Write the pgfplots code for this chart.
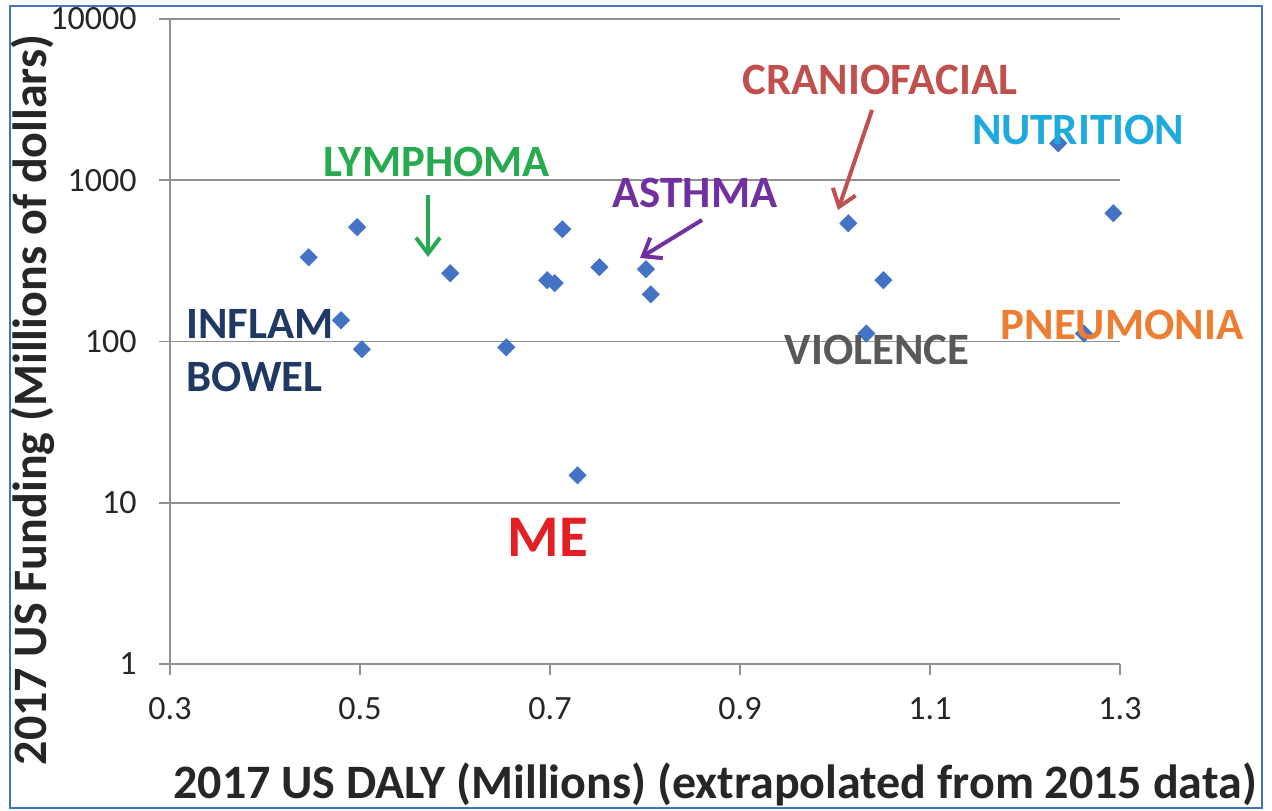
\documentclass[border=0pt]{standalone}
\usepackage{fontspec}
\setmainfont{Carlito}
\usepackage{pgfplots}
\pgfplotsset{compat=1.18}
\usetikzlibrary{arrows.meta}
\definecolor{markblue}{RGB}{68,114,196}
\definecolor{gridgray}{RGB}{145,145,145}
\definecolor{inflam}{RGB}{31,56,100}
\definecolor{lymph}{RGB}{40,170,80}
\definecolor{asthma}{RGB}{112,48,160}
\definecolor{cranio}{RGB}{192,80,77}
\definecolor{nutri}{RGB}{30,170,220}
\definecolor{pneu}{RGB}{237,125,49}
\definecolor{viol}{RGB}{89,89,89}
\definecolor{mered}{RGB}{227,30,36}
\definecolor{frameblue}{RGB}{68,114,196}
\newcommand\annfont{\fontsize{22.4}{26.5}\selectfont\bfseries}
\begin{document}
\begin{tikzpicture}
\begin{axis}[
  at={(85pt,73pt)}, anchor=south west,
  scale only axis, width=475pt, height=322.5pt,
  xmin=0.3, xmax=1.3, ymode=log, ymin=1, ymax=10000,
  axis x line*=bottom, axis y line*=left,
  axis line style={gridgray, line width=0.8pt, -},
  xtick={0.3,0.5,0.7,0.9,1.1,1.3}, xticklabels={0.3,0.5,0.7,0.9,1.1,1.3},
  ytick={1,10,100,1000,10000}, yticklabels={1,10,100,1000,10000},
  yminorticks=false,
  tick align=outside, major tick length=5.5pt,
  tick style={gridgray, line width=0.8pt},
  ymajorgrids, grid style={gridgray, line width=0.8pt},
  ticklabel style={font=\fontsize{17}{20}\selectfont, text=black!85, inner sep=0pt},
  xticklabel style={anchor=north, yshift=-11pt},
  yticklabel style={anchor=east, xshift=-11pt},
  clip=false,
]
\addplot[only marks, mark=square*, mark size=3pt,
  mark options={rotate=45, fill=markblue, draw=markblue}] coordinates {
  (0.446,333) (0.497,512) (0.480,135.5) (0.502,89.5) (0.595,265)
  (0.654,92) (0.697,240) (0.705,230) (0.713,497) (0.752,289)
  (0.801,281) (0.806,196) (0.729,14.8) (1.014,541) (1.051,240)
  (1.033,112) (1.235,1695) (1.293,624) (1.262,112)
};
\end{axis}
\begin{scope}[x=0.5pt,y=0.5pt]
\useasboundingbox (0,0) rectangle (1272,810);
\draw[frameblue, line width=1pt] (10,2) rectangle (1262,804);
\node[anchor=west, align=left, inner sep=0pt, text=inflam, font=\annfont] at (186,459.5) {INFLAM\\BOWEL};
\node[inner sep=0pt, text=lymph, font=\annfont] at (437,648) {LYMPHOMA};
\draw[lymph, line width=2pt, -{Straight Barb[length=8pt,width=12pt]}] (428,615) -- (428,553);
\node[inner sep=0pt, text=asthma, font=\annfont] at (695,617) {ASTHMA};
\draw[asthma, line width=2pt, -{Straight Barb[length=8pt,width=12pt]}] (702,590) -- (640,552);
\node[inner sep=0pt, text=cranio, font=\annfont] at (880,730) {CRANIOFACIAL};
\draw[cranio, line width=2pt, -{Straight Barb[length=8pt,width=12pt]}] (872,700) -- (838,600);
\node[inner sep=0pt, text=nutri, font=\annfont] at (1078,680) {NUTRITION};
\node[inner sep=0pt, text=pneu, font=\annfont] at (1122,485) {PNEUMONIA};
\node[inner sep=0pt, text=viol, font=\annfont] at (877,460) {VIOLENCE};
\node[inner sep=0pt, text=mered, font=\fontsize{29.5}{34}\selectfont\bfseries] at (548,273) {ME};
\node[anchor=base west, inner sep=0pt, font=\fontsize{24}{28}\selectfont\bfseries, text=black!85] at (173,12) {2017 US DALY (Millions) (extrapolated from 2015 data)};
\node[rotate=90, anchor=base, inner sep=0pt, font=\fontsize{24}{28}\selectfont\bfseries, text=black!85] at (46,410) {2017 US Funding (Millions of dollars)};
\end{scope}
\end{tikzpicture}
\end{document}
